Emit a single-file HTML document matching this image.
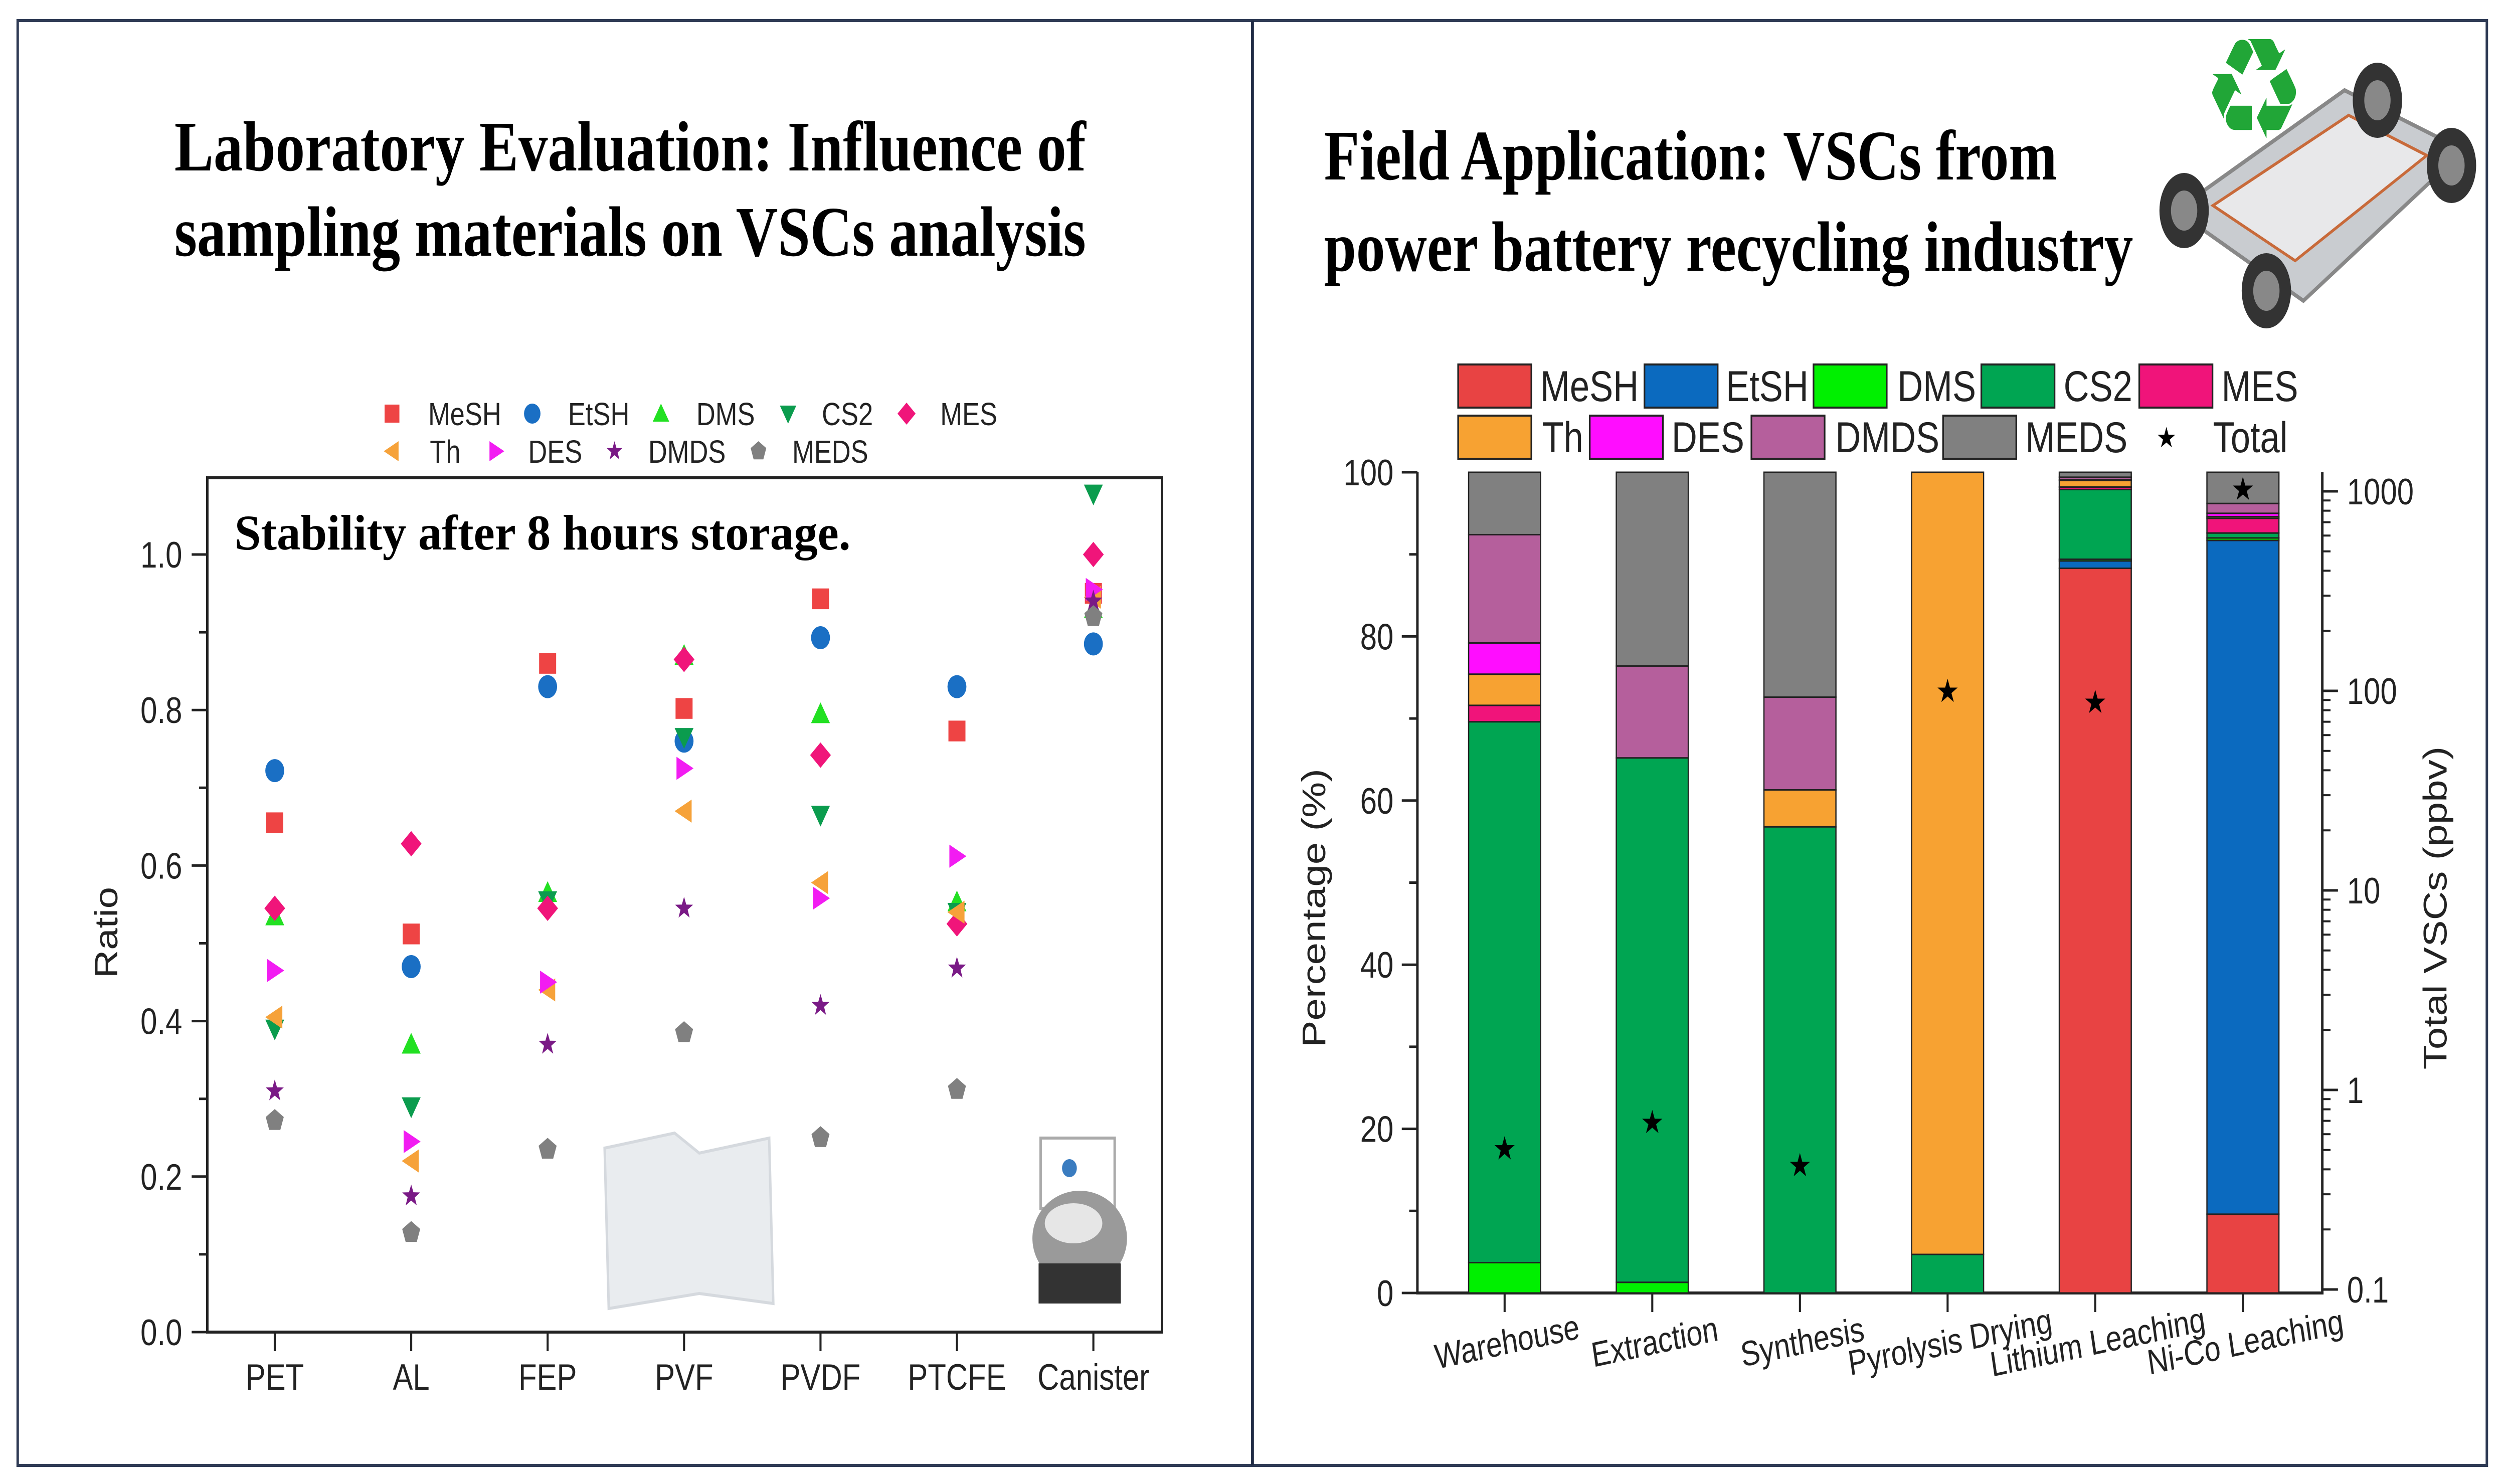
<!DOCTYPE html>
<html><head><meta charset="utf-8"><style>
html,body{margin:0;padding:0;background:#fff;overflow:hidden;width:100%;height:100%;}
svg{display:block;width:100vw;height:100vh;}
text{font-family:"Liberation Sans",Arial,sans-serif;}
.serif{font-family:"Liberation Serif","Times New Roman",serif;font-weight:bold;}
</style></head><body>
<svg id="fig" xmlns="http://www.w3.org/2000/svg" viewBox="0 0 6095 2960" preserveAspectRatio="none">
<rect x="0" y="0" width="6095" height="2960" fill="#fff"/>
<rect x="43" y="41" width="6003" height="2882" fill="none" stroke="#2f3b55" stroke-width="6"/>
<line x1="3045" y1="41" x2="3045" y2="2923" stroke="#1f2a44" stroke-width="7"/>
<text class="serif" x="1532" y="340" font-size="142" text-anchor="middle" textLength="2216" lengthAdjust="spacingAndGlyphs">Laboratory Evaluation: Influence of</text>
<text class="serif" x="1532" y="510" font-size="142" text-anchor="middle" textLength="2216" lengthAdjust="spacingAndGlyphs">sampling materials on VSCs analysis</text>
<text class="serif" x="3219" y="358" font-size="142" textLength="1782" lengthAdjust="spacingAndGlyphs">Field Application: VSCs from</text>
<text class="serif" x="3219" y="540" font-size="142" textLength="1967" lengthAdjust="spacingAndGlyphs">power battery recycling industry</text>
<g id="left"></g>
<g id="right"></g>
</svg>
<script>
const NS='http://www.w3.org/2000/svg';
function mk(parent,tag,attrs,txt){const e=document.createElementNS(NS,tag);for(const k in attrs)e.setAttribute(k,attrs[k]);if(txt!==undefined)e.textContent=txt;parent.appendChild(e);return e;}

// ---------- Left scatter data ----------
const materials=['PET','AL','FEP','PVF','PVDF','PTCFE','Canister'];
const compounds=['MeSH','EtSH','DMS','CS2','MES','Th','DES','DMDS','MEDS'];
const meshVals=[0.655,0.512,0.86,0.802,0.943,0.773,0.95];
const etshVals=[0.722,0.47,0.83,0.76,0.893,0.83,0.885];
const dmsVals=[0.535,0.37,0.565,0.87,0.795,0.553,0.93];
const cs2Vals=[0.39,0.29,0.555,0.765,0.665,0.54,1.078];
const mesVals=[0.545,0.628,0.545,0.865,0.742,0.525,1.0];
const thVals=[0.405,0.22,0.44,0.67,0.578,0.54,0.945];
const desVals=[0.465,0.245,0.45,0.725,0.558,0.612,0.955];
const dmdsVals=[0.31,0.175,0.37,0.545,0.42,0.468,0.94];
const medsVals=[0.272,0.128,0.235,0.385,0.25,0.312,0.92];
const yTicksL=[0.0,0.2,0.4,0.6,0.8,1.0];

// ---------- Right stacked bar data ----------
const sites=['Warehouse','Extraction','Synthesis','Pyrolysis Drying','Lithium Leaching','Ni-Co Leaching'];
const pMeSH=[0,0,0,0,88.3,9.6];
const pEtSH=[0,0,0,0,0.9,82.1];
const pDMS=[3.7,1.3,0,0,0.2,0.3];
const pCS2=[65.9,63.9,56.8,4.7,8.5,0.6];
const pMES=[2.0,0,0,0,0.3,1.8];
const pTh=[3.8,0,4.5,95.3,0.8,0.2];
const pDES=[3.8,0,0,0,0.1,0.4];
const pDMDS=[13.2,11.2,11.3,0,0.3,1.2];
const pMEDS=[7.6,23.6,27.4,0,0.6,3.8];
const totals=[0.51,0.69,0.42,100,88,1030];
const yTicksR=[0,20,40,60,80,100];
const logTicks=[0.1,1,10,100,1000];

const L=document.getElementById('left');
const x0L=504,x1L=2825,yTopL=953,yBotL=2657;
const xL=i=>668+i*331.7;
const yL=v=>yBotL-v*1551;
const colors={MeSH:'#ee4444',EtSH:'#1a6fc4',DMS:'#22e022',CS2:'#0b9c4e',MES:'#f0157a',Th:'#f6a23a',DES:'#f21cf2',DMDS:'#7a1a86',MEDS:'#808080'};
const seriesL={MeSH:meshVals,EtSH:etshVals,DMS:dmsVals,CS2:cs2Vals,MES:mesVals,Th:thVals,DES:desVals,DMDS:dmdsVals,MEDS:medsVals};
function marker(g,name,cx,cy,s){
  const c=colors[name];let e;const r=s/2;
  if(name==='MeSH')e=mk(g,'rect',{x:cx-r*0.9,y:cy-r*0.9,width:s*0.9,height:s*0.9,fill:c});
  else if(name==='EtSH')e=mk(g,'circle',{cx:cx,cy:cy,r:r,fill:c});
  else if(name==='DMS')e=mk(g,'polygon',{points:`${cx},${cy-r} ${cx+r},${cy+r*0.8} ${cx-r},${cy+r*0.8}`,fill:c});
  else if(name==='CS2')e=mk(g,'polygon',{points:`${cx-r},${cy-r*0.8} ${cx+r},${cy-r*0.8} ${cx},${cy+r}`,fill:c});
  else if(name==='MES')e=mk(g,'polygon',{points:`${cx},${cy-r*1.1} ${cx+r*1.1},${cy} ${cx},${cy+r*1.1} ${cx-r*1.1},${cy}`,fill:c});
  else if(name==='Th')e=mk(g,'polygon',{points:`${cx-r},${cy} ${cx+r*0.8},${cy-r} ${cx+r*0.8},${cy+r}`,fill:c});
  else if(name==='DES')e=mk(g,'polygon',{points:`${cx+r},${cy} ${cx-r*0.8},${cy-r} ${cx-r*0.8},${cy+r}`,fill:c});
  else if(name==='DMDS'){let p=[];for(let k=0;k<10;k++){const a=-Math.PI/2+k*Math.PI/5;const rr=k%2?r*0.4:r;p.push((cx+rr*Math.cos(a)).toFixed(1)+','+(cy+rr*Math.sin(a)).toFixed(1));}e=mk(g,'polygon',{points:p.join(' '),fill:c});}
  else {let p=[];for(let k=0;k<5;k++){const a=-Math.PI/2+k*2*Math.PI/5;p.push((cx+r*Math.cos(a)).toFixed(1)+','+(cy+r*Math.sin(a)).toFixed(1));}e=mk(g,'polygon',{points:p.join(' '),fill:c});}
  return e;
}
const bag=mk(L,'path',{d:'M1470 2290 L1640 2260 L1700 2300 L1870 2270 L1880 2600 L1700 2580 L1480 2610 Z',fill:'#e9ecef',stroke:'#d5d9de','stroke-width':6});


const can=mk(L,'g',{});


mk(can,'rect',{x:2530,y:2270,width:180,height:140,fill:'none',stroke:'#aaa','stroke-width':6});
mk(can,'circle',{cx:2600,cy:2330,r:18,fill:'#3a7cc0'});
mk(can,'ellipse',{cx:2625,cy:2470,rx:115,ry:95,fill:'#9a9a9a'});
mk(can,'ellipse',{cx:2610,cy:2440,rx:70,ry:40,fill:'#e6e6e6'});
mk(can,'rect',{x:2525,y:2520,width:200,height:80,fill:'#333'});
const fr=mk(L,'rect',{x:x0L,y:yTopL,width:x1L-x0L,height:yBotL-yTopL,fill:'none',stroke:'#222','stroke-width':6});


for(let v=0;v<=1.0001;v+=0.1){const yy=yL(v);const major=Math.round(v*10)%2===0;mk(L,'line',{x1:x0L-(major?38:20),x2:x0L,y1:yy,y2:yy,stroke:'#222','stroke-width':5});}
yTicksL.forEach(v=>{const t=mk(L,'text',{x:443,y:yL(v)+26,'font-size':73,'text-anchor':'end',fill:'#222'},v.toFixed(1));

});
materials.forEach((m,i)=>{mk(L,'line',{x1:xL(i),x2:xL(i),y1:yBotL,y2:yBotL+38,stroke:'#222','stroke-width':5});
const t=mk(L,'text',{x:xL(i),y:2772,'font-size':73,'text-anchor':'middle',fill:'#222'},m);

});
const yt=mk(L,'text',{x:0,y:0,'font-size':78,'text-anchor':'middle',fill:'#222',transform:'translate(285 1860) rotate(-90)'},'Ratio');


const st=mk(L,'text',{x:570,y:1096,'font-size':100,class:'serif',textLength:1498,lengthAdjust:'spacingAndGlyphs'},'Stability after 8 hours storage.');


compounds.forEach(c=>{seriesL[c].forEach((v,i)=>{const e=marker(L,c,xL(i),yL(v),46);

});});
const legL=[['MeSH',953,825,1041],['EtSH',1294,825,1381],['DMS',1607,825,1693],['CS2',1916,825,1998],['MES',2204,825,2286],['Th',953,900,1045],['DES',1206,900,1284],['DMDS',1494,900,1576],['MEDS',1844,900,1926]];
legL.forEach(([n,mx,my,tx])=>{const g=mk(L,'g',{});


marker(g,n,mx,my,40);mk(g,'text',{x:tx,y:my+23,'font-size':64,fill:'#222'},n);});

// ---------- Right chart ----------
const R=document.getElementById('right');
const x0R=3446,x1R=5646,yTopR=942,yBotR=2579;
const xR=i=>3658+i*359;
const yR=v=>yBotR-v*(yBotR-yTopR)/100;
const yLog=v=>2572-(Math.log10(v)+1)*398;
const rColors={MeSH:'#e84343',EtSH:'#0b6abf',DMS:'#00f000',CS2:'#00a552',MES:'#f0147a',Th:'#f7a232',DES:'#ff0dff',DMDS:'#b55f9c',MEDS:'#808080'};
const seriesR={MeSH:pMeSH,EtSH:pEtSH,DMS:pDMS,CS2:pCS2,MES:pMES,Th:pTh,DES:pDES,DMDS:pDMDS,MEDS:pMEDS};
const order=['MeSH','EtSH','DMS','CS2','MES','Th','DES','DMDS','MEDS'];
const car=mk(R,'g',{});


mk(car,'polygon',{points:'5290,420 5700,180 5990,300 5600,600',fill:'#c9ccd0',stroke:'#888','stroke-width':8});
mk(car,'polygon',{points:'5380,410 5710,230 5900,310 5580,520',fill:'#e8e8ea',stroke:'#c86a3a','stroke-width':6});
[[5310,420],[5510,580],[5780,200],[5960,330]].forEach(([cx,cy])=>{mk(car,'ellipse',{cx:cx,cy:cy,rx:60,ry:75,fill:'#333'});mk(car,'ellipse',{cx:cx,cy:cy,rx:32,ry:40,fill:'#888'});});
const rec=mk(R,'text',{x:5480,y:275,'font-size':280,fill:'#21a637','text-anchor':'middle',style:'font-family:"DejaVu Sans",sans-serif'},'♻');


const ax=mk(R,'path',{d:`M${x0R} ${yTopR} L${x0R} ${yBotR} L${x1R} ${yBotR} L${x1R} ${yTopR}`,fill:'none',stroke:'#222','stroke-width':6});


for(let v=0;v<=100;v+=10){const yy=yR(v);mk(R,'line',{x1:x0R-(v%20===0?38:20),x2:x0R,y1:yy,y2:yy,stroke:'#222','stroke-width':5});}
yTicksR.forEach(v=>{const t=mk(R,'text',{x:3388,y:yR(v)+26,'font-size':73,'text-anchor':'end',fill:'#222'},String(v));

});
logTicks.forEach((v,k)=>{const yy=yLog(v);mk(R,'line',{x1:x1R,x2:x1R+38,y1:yy,y2:yy,stroke:'#222','stroke-width':5});
if(k<logTicks.length-1){for(let m=2;m<10;m++){const ym=yLog(v*m);mk(R,'line',{x1:x1R,x2:x1R+20,y1:ym,y2:ym,stroke:'#222','stroke-width':4});}}
const t=mk(R,'text',{x:5706,y:yy+26,'font-size':73,fill:'#222'},String(v));

});
const yp=mk(R,'text',{x:0,y:0,'font-size':80,'text-anchor':'middle',fill:'#222',transform:'translate(3222 1811) rotate(-90)'},'Percentage (%)');


const yq=mk(R,'text',{x:0,y:0,'font-size':80,'text-anchor':'middle',fill:'#222',transform:'translate(5948 1811) rotate(-90)'},'Total VSCs (ppbv)');


sites.forEach((s,i)=>{let acc=0;const bw=175;
order.forEach(c=>{const v=seriesR[c][i];if(v>0){const r=mk(R,'rect',{x:xR(i)-bw/2,y:yR(acc+v),width:bw,height:yR(acc)-yR(acc+v),fill:rColors[c],stroke:'#222','stroke-width':3});

}acc+=v;});
mk(R,'line',{x1:xR(i),x2:xR(i),y1:yBotR,y2:yBotR+38,stroke:'#222','stroke-width':5});
const t=mk(R,'text',{x:0,y:0,'font-size':70,'text-anchor':'middle',fill:'#222',transform:`translate(${xR(i)+10} ${2700}) rotate(-10)`},s);


const star=mk(R,'text',{x:xR(i),y:yLog(totals[i])+22,'font-size':64,'text-anchor':'middle',fill:'#000',style:'font-family:"DejaVu Sans",sans-serif'},'★');

});
const legR=[['MeSH',3545,770,3745],['EtSH',3998,770,4196],['DMS',4409,770,4613],['CS2',4817,770,5017],['MES',5201,770,5401],['Th',3545,872,3749],['DES',3865,872,4064],['DMDS',4258,872,4462],['MEDS',4724,872,4924]];
legR.forEach(([n,sx,sy,tx])=>{const g=mk(R,'g',{});


mk(g,'rect',{x:sx,y:sy-43,width:178,height:86,fill:rColors[n],stroke:'#222','stroke-width':4});
mk(g,'text',{x:tx,y:sy+30,'font-size':86,fill:'#222'},n);});
const tg=mk(R,'g',{});


mk(tg,'text',{x:5267,y:892,'font-size':56,'text-anchor':'middle',fill:'#000',style:'font-family:"DejaVu Sans",sans-serif'},'★');
mk(tg,'text',{x:5380,y:902,'font-size':86,fill:'#222'},'Total');
</script>
</body></html>
